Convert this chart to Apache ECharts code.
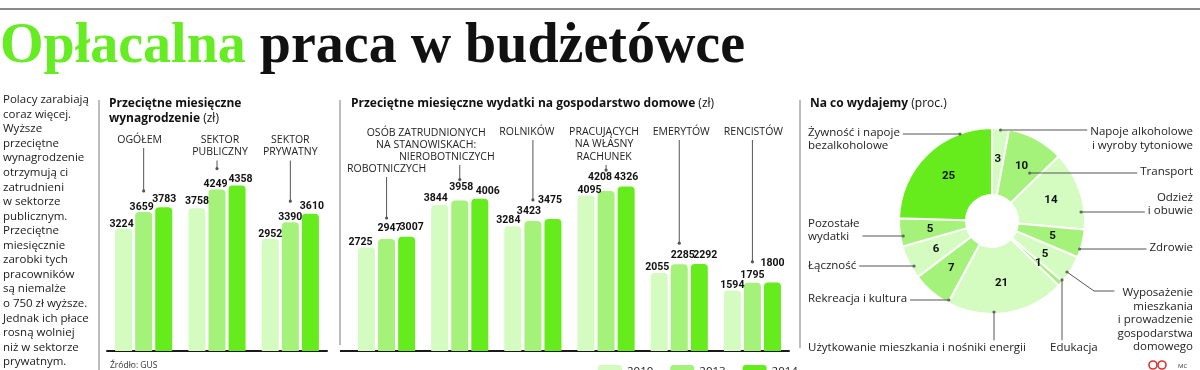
<!DOCTYPE html>
<html><head><meta charset="utf-8">
<script src="https://cdn.jsdelivr.net/npm/echarts@6/dist/echarts.min.js"></script>
<style>html,body{margin:0;padding:0;background:#fff}#c{width:1200px;height:370px}</style>
</head><body><div id="c"></div>
<script>
// ---------- data ----------
const years = ['2010', '2013', '2014'];
const wageCats = ['OGÓŁEM', 'SEKTOR\nPUBLICZNY', 'SEKTOR\nPRYWATNY'];
const wage2010 = [3224, 3758, 2952];
const wage2013 = [3659, 4249, 3390];
const wage2014 = [3783, 4358, 3610];
const expCats = ['ROBOTNICZYCH', 'NIEROBOTNICZYCH', 'ROLNIKÓW', 'PRACUJĄCYCH\nNA WŁASNY\nRACHUNEK', 'EMERYTÓW', 'RENCISTÓW'];
const expGroupHeader = 'OSÓB ZATRUDNIONYCH\nNA STANOWISKACH:';
const exp2010 = [2725, 3844, 3284, 4095, 2055, 1594];
const exp2013 = [2947, 3958, 3423, 4208, 2285, 1795];
const exp2014 = [3007, 4006, 3475, 4326, 2292, 1800];
const pieNames = ['Napoje alkoholowe\ni wyroby tytoniowe', 'Transport', 'Odzież\ni obuwie', 'Zdrowie',
  'Wyposażenie\nmieszkania\ni prowadzenie\ngospodarstwa\ndomowego', 'Edukacja',
  'Użytkowanie mieszkania i nośniki energii', 'Rekreacja i kultura', 'Łączność',
  'Pozostałe\nwydatki', 'Żywność i napoje\nbezalkoholowe'];
const pieValues = [3, 10, 14, 5, 5, 1, 21, 7, 6, 5, 25];
const introLines = ['Polacy zarabiają', 'coraz więcej.', 'Wyższe', 'przeciętne', 'wynagrodzenie',
  'otrzymują ci', 'zatrudnieni', 'w sektorze', 'publicznym.', 'Przeciętne', 'miesięcznie',
  'zarobki tych', 'pracowników', 'są niemalże', 'o 750 zł wyższe.', 'Jednak ich płace',
  'rosną wolniej', 'niż w sektorze', 'prywatnym.'];

// ---------- styles / layout ----------
const FONT = '"Open Sans", sans-serif';
const NUMFONT = 'Roboto, "Open Sans", sans-serif';
const C_LIGHT = '#d4fbc0', C_MED = '#a4f27a', C_BRIGHT = '#66ec1c';
const yearColors = [C_LIGHT, C_MED, C_BRIGHT];
const pieColors = [C_LIGHT, C_MED, C_LIGHT, C_MED, C_LIGHT, C_MED, C_LIGHT, C_MED, C_LIGHT, C_MED, C_BRIGHT];
// value-label nudges [dx, dy] (hand placement in the original)
const wageLbl2010 = [[-2, 1], [0, -1.5], [0, 1.5]];
const wageLbl2013 = [[-2, 1], [-1.5, 0], [0, 1]];
const wageLbl2014 = [[0.5, -2.5], [3.5, -0.5], [1.5, -2]];
const expLbl2010 = [[-6, 0], [-4, -1], [-4.5, -0.5], [3.5, 0], [-2, 0], [0, 0]];
const expLbl2013 = [[3, -5], [1.5, -8], [-4, -4], [-6, -8], [3.5, -3], [0, -2]];
const expLbl2014 = [[5, -4], [8, -1.5], [-3, -13], [0, -3.5], [6, -3.5], [0, -14]];
// pie geometry and label anchors: [x, y, align]
const PIE_C = [992, 221], PIE_R = [26, 93];
const pieLabelLayout = [
  [1193, 138.5, 'right'], [1193, 172, 'right'], [1193, 204, 'right'], [1193, 248, 'right'],
  [1193, 320, 'right'], [1050, 348, 'left'], [808, 348, 'left'], [808, 299, 'left'],
  [808, 266, 'left'], [808, 230, 'left'], [808, 139, 'left']
];
// leader lines: ['h', lineY, dotRadius] | ['v', lineX, dotRadius] | ['e', dotY, dotRadius, elbowX, elbowY]
const pieLeaders = [
  ['h', 130, 91.4], ['h', 173, 61], ['h', 212, 89.5], ['h', 249, 92],
  ['e', 272, 90.7, 1094, 291], ['v', 1062, 91.5], ['v', 994, 91],
  ['h', 300, 90], ['h', 266, 90], ['h', 236, 90], ['h', 134, 92.7]
];

function leaderDot(i) {
  const s = pieLeaders[i], cx = PIE_C[0], cy = PIE_C[1];
  if (s[0] === 'v') {
    const d = s[1] - cx;
    return [s[1], cy + Math.sqrt(Math.max(0, s[2] * s[2] - d * d))];
  }
  const dy = s[1] - cy;
  const dx = Math.sqrt(Math.max(0, s[2] * s[2] - dy * dy));
  const right = pieLabelLayout[i][2] === 'right';
  return [right ? cx + dx : cx - dx, s[1]];
}
function leaderPoints(i, rect) {
  const s = pieLeaders[i], dot = leaderDot(i);
  if (s[0] === 'v') return [dot, [s[1], rect.y - 1]];
  if (s[0] === 'e') return [dot, [s[3], s[4]], [rect.x - 3, s[4]]];
  const right = pieLabelLayout[i][2] === 'right';
  return [dot, [right ? rect.x - 3 : rect.x + rect.width + 3, s[1]]];
}

const chart = echarts.init(document.getElementById('c'), null, {renderer: 'canvas'});

function barSeries(name, values, offsets, idx, color) {
  return {
    type: 'bar', name: name, xAxisIndex: idx, yAxisIndex: idx,
    data: values.map((v, i) => ({value: v, label: {offset: offsets[i]}})),
    barWidth: 17, barGap: '18%',
    itemStyle: {color: color, borderRadius: [4, 4, 0, 0]},
    label: {show: true, position: 'top', distance: 0, color: '#111',
      fontFamily: NUMFONT, fontSize: 10.5, fontWeight: 'bold'},
    emphasis: {disabled: true}, silent: true
  };
}

const pieData = pieValues.map((v, i) => ({value: v, name: pieNames[i], itemStyle: {color: pieColors[i]}}));
const pieDataLabels = pieValues.map((v, i) => ({value: v, name: pieNames[i]}));

const option = {
  animation: false,
  backgroundColor: '#fff',
  color: yearColors,
  legend: {
    data: years, left: 593, top: 360, itemWidth: 24, itemHeight: 13, itemGap: 17,
    icon: 'roundRect', selectedMode: false,
    textStyle: {fontFamily: FONT, fontSize: 11.5, color: '#222'}
  },
  grid: [
    {left: 107, width: 220, top: 161, height: 190, containLabel: false, outerBoundsMode: 'none'},
    {left: 350, width: 439, top: 161, height: 190, containLabel: false, outerBoundsMode: 'none'}
  ],
  xAxis: [0, 1].map(i => ({
    type: 'category', gridIndex: i, data: i === 0 ? wageCats : expCats,
    axisLabel: {show: false}, axisTick: {show: false}, splitLine: {show: false},
    axisLine: {show: true, lineStyle: {color: '#1a1a1a', width: 2}}
  })),
  yAxis: [0, 1].map(i => ({
    type: 'value', gridIndex: i, min: 0, max: 5000, show: false, splitLine: {show: false}
  })),
  series: [
    barSeries(years[0], wage2010, wageLbl2010, 0, yearColors[0]),
    barSeries(years[1], wage2013, wageLbl2013, 0, yearColors[1]),
    barSeries(years[2], wage2014, wageLbl2014, 0, yearColors[2]),
    barSeries(years[0], exp2010, expLbl2010, 1, yearColors[0]),
    barSeries(years[1], exp2013, expLbl2013, 1, yearColors[1]),
    barSeries(years[2], exp2014, expLbl2014, 1, yearColors[2]),
    {
      type: 'pie', center: PIE_C, radius: PIE_R, startAngle: 90, clockwise: true,
      data: pieData, silent: true, avoidLabelOverlap: false,
      itemStyle: {borderColor: '#fff', borderWidth: 2},
      label: {show: true, position: 'inside', formatter: '{c}', color: '#111',
        fontFamily: NUMFONT, fontSize: 11.5, fontWeight: 'bold'},
      labelLine: {show: false}, emphasis: {disabled: true}
    },
    {
      type: 'pie', center: PIE_C, radius: PIE_R, startAngle: 90, clockwise: true,
      data: pieDataLabels, silent: true, avoidLabelOverlap: false, z: 3,
      itemStyle: {color: 'rgba(0,0,0,0)', borderWidth: 0},
      label: {show: true, position: 'outside', formatter: '{b}', color: '#222',
        fontFamily: FONT, fontSize: 11.5, lineHeight: 13.5},
      labelLine: {show: true, length: 10, length2: 10, smooth: false,
        lineStyle: {color: '#555', width: 1}},
      labelLayout: function (p) {
        const L = pieLabelLayout[p.dataIndex];
        const w = p.labelRect.width, h = p.labelRect.height;
        const rect = {x: L[2] === 'right' ? L[0] - w : L[0], y: L[1] - h / 2, width: w, height: h};
        return {x: L[0], y: L[1], align: L[2], verticalAlign: 'middle', hideOverlap: false,
          labelLinePoints: leaderPoints(p.dataIndex, rect)};
      },
      emphasis: {disabled: true}
    }
  ]
};
chart.setOption(option);

// ---------- annotations (positions from the library's axes) ----------
const HFONT = '10.5px ' + FONT;
const HLH = 12.5;
const g = [];
g.push({type: 'line', shape: {x1: 0, y1: 9, x2: 1200, y2: 9}, style: {stroke: '#8a8a8a', lineWidth: 2}});
[[99, 100, 370], [340, 100, 345], [800, 100, 348]].forEach(s => {
  g.push({type: 'line', shape: {x1: s[0], y1: s[1], x2: s[0], y2: s[2]}, style: {stroke: '#7a7a7a', lineWidth: 1}});
});
g.push({type: 'line', shape: {x1: 340, y1: 351, x2: 351, y2: 351}, style: {stroke: '#1a1a1a', lineWidth: 2}});

// main title
const TFONT = 'bold 56px "Liberation Serif", serif';
g.push({type: 'text', x: 0, y: 48, style: {
  text: '{g|Opłacalna} {k|praca w budżetówce}', verticalAlign: 'middle', align: 'left',
  font: TFONT, fill: '#111',
  rich: {g: {fill: '#66ec22', font: TFONT}, k: {fill: '#111', font: TFONT}}
}});
// intro paragraph
g.push({type: 'text', x: 3, y: 92.7, style: {
  text: introLines.join('\n'), font: '11.5px ' + FONT, fill: '#1a1a1a',
  lineHeight: 14.55, verticalAlign: 'top', align: 'left'
}});
// section titles
const bold = 'bold 12px ' + FONT, norm = '12px ' + FONT;
function sectionTitle(x, text) {
  g.push({type: 'text', x: x, y: 96.5, style: {
    text: text, verticalAlign: 'top', align: 'left', font: bold, fill: '#111', lineHeight: 15,
    rich: {b: {font: bold, fill: '#111', lineHeight: 15}, n: {font: norm, fill: '#111', lineHeight: 15}}
  }});
}
sectionTitle(109, '{b|Przeciętne miesięczne}\n{b|wynagrodzenie} {n|(zł)}');
sectionTitle(351, '{b|Przeciętne miesięczne wydatki na gospodarstwo domowe} {n|(zł)}');
sectionTitle(810, '{b|Na co wydajemy} {n|(proc.)}');

function addHeader(axisIdx, catIdx, text, dx, y, midValue) {
  const px = chart.convertToPixel({xAxisIndex: axisIdx}, catIdx);
  const n = text.split('\n').length;
  g.push({type: 'text', x: px + dx, y: y - HLH / 2, style: {
    text: text, font: HFONT, fill: '#222', align: 'center', verticalAlign: 'top', lineHeight: HLH
  }});
  if (midValue != null) {
    const yEnd = chart.convertToPixel({yAxisIndex: axisIdx}, midValue) - 21;
    const yStart = y + (n - 1) * HLH + 8;
    g.push({type: 'line', shape: {x1: px, y1: yStart, x2: px, y2: yEnd}, style: {stroke: '#555', lineWidth: 1}});
    g.push({type: 'circle', shape: {cx: px, cy: yEnd, r: 1.6}, style: {fill: '#555'}});
  }
}
addHeader(0, 0, wageCats[0], -4, 140, wage2013[0]);
addHeader(0, 1, wageCats[1], 3, 140, wage2013[1]);
addHeader(0, 2, wageCats[2], 0, 140, wage2013[2]);
addHeader(1, 0, expCats[0], 0, 169, exp2013[0]);
addHeader(1, 1, expCats[1], -13, 157, exp2013[1]);
addHeader(1, 2, expCats[2], -6, 132, exp2013[2]);
addHeader(1, 3, expCats[3], -2, 132, exp2013[3]);
addHeader(1, 4, expCats[4], 2, 132, exp2013[4]);
addHeader(1, 5, expCats[5], 1, 132, exp2013[5]);
(function () {
  const a = chart.convertToPixel({xAxisIndex: 1}, 0), b = chart.convertToPixel({xAxisIndex: 1}, 1);
  g.push({type: 'text', x: (a + b) / 2 + 3, y: 133 - HLH / 2, style: {
    text: expGroupHeader, font: HFONT, fill: '#222', align: 'center', verticalAlign: 'top', lineHeight: HLH
  }});
})();
// pie leader dots
pieValues.forEach((v, i) => {
  const d = leaderDot(i);
  g.push({type: 'circle', z: 10, shape: {cx: d[0], cy: d[1], r: 1.6}, style: {fill: '#666'}});
});
// source + credits
g.push({type: 'text', x: 110, y: 366, style: {text: 'Źródło: GUS', font: '8.5px ' + FONT, fill: '#333', verticalAlign: 'middle'}});
g.push({type: 'circle', shape: {cx: 1153, cy: 365, r: 4}, style: {fill: 'none', stroke: '#e03030', lineWidth: 1.6}});
g.push({type: 'circle', shape: {cx: 1162, cy: 365, r: 4}, style: {fill: 'none', stroke: '#e03030', lineWidth: 1.6}});
g.push({type: 'text', x: 1178, y: 366, style: {text: 'MC', font: '6px ' + FONT, fill: '#333', verticalAlign: 'middle'}});

chart.setOption({graphic: {elements: g}});
</script>
</body></html>
